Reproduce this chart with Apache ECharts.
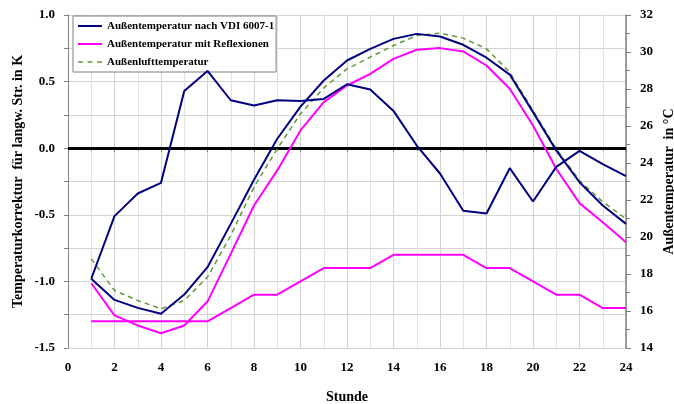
<!DOCTYPE html>
<html>
<head>
<meta charset="utf-8">
<script src="https://cdn.jsdelivr.net/npm/echarts@6/dist/echarts.min.js"></script>
<style>
  html, body { margin: 0; padding: 0; background: #fff; }
  #chart { width: 674px; height: 404px; }
</style>
</head>
<body>
<div id="chart"></div>
<script>
// Stunden 1..24
const hours = [1,2,3,4,5,6,7,8,9,10,11,12,13,14,15,16,17,18,19,20,21,22,23,24];

// Korrektur (linke Achse, K)
const korrVDI = [-0.98,-0.51,-0.34,-0.26,0.43,0.58,0.36,0.32,0.36,0.355,0.37,0.48,
                 0.44,0.28,0.02,-0.19,-0.47,-0.49,-0.15,-0.40,-0.14,-0.02,-0.12,-0.21];
const korrRefl = [-1.30,-1.30,-1.30,-1.30,-1.30,-1.30,-1.20,-1.10,-1.10,-1.00,-0.90,-0.90,
                  -0.90,-0.80,-0.80,-0.80,-0.80,-0.90,-0.90,-1.00,-1.10,-1.10,-1.20,-1.20];

// Temperaturen (rechte Achse, °C)
const tempVDI = [17.74,16.6,16.17,15.85,16.89,18.37,20.71,23.09,25.31,27.05,28.46,29.54,
                 30.17,30.71,30.98,30.84,30.39,29.69,28.78,26.75,24.68,22.96,21.7,20.71];
const tempRefl = [17.5,15.76,15.22,14.8,15.22,16.51,19.09,21.7,23.6,25.76,27.29,28.19,
                  28.82,29.63,30.12,30.21,30.03,29.27,28.01,26.03,23.69,21.83,20.8,19.72];
const tempLuft = [18.82,17.11,16.57,16.12,16.57,17.83,20.08,22.7,24.77,26.66,28.06,29.09,
                  29.72,30.35,30.89,31.02,30.75,30.17,28.91,26.84,24.77,23.05,21.9,20.98];

const NAME_VDI = "Außentemperatur nach VDI 6007-1";
const NAME_REFL = "Außentemperatur mit Reflexionen";
const NAME_LUFT = "Außenlufttemperatur";

const pairs = (ys) => hours.map((h, i) => [h, ys[i]]);

// Legenden-Symbole: Linie in einem 24x12 Kasten (Ecken als Platzhalter)
const ICON_SOLID = "path://M0,0h0.01v0.01h-0.01z M0,5h24v2h-24z M24,12h-0.01v-0.01h0.01z";
const ICON_DASH = "path://M0,0h0.01v0.01h-0.01z M0,5.25h5v1.5h-5z M9.5,5.25h5v1.5h-5z M19,5.25h5v1.5h-5z M24,12h-0.01v-0.01h0.01z";

const FONT = "Liberation Serif";
const tickLabel = { fontFamily: FONT, fontWeight: "bold", fontSize: 13, color: "#000" };
const nameStyle = { fontFamily: FONT, fontWeight: "bold", fontSize: 14, color: "#000" };

const chart = echarts.init(document.getElementById("chart"));

chart.setOption({
  animation: false,
  grid: { left: 68, right: 48, top: 15, bottom: 56, containLabel: false, outerBoundsMode: "none" },
  legend: {
    orient: "vertical",
    left: 73,
    top: 16,
    padding: [4, 2, 4, 5],
    itemGap: 6,
    itemWidth: 24,
    itemHeight: 12,
    backgroundColor: "#fff",
    borderColor: "#7f7f7f",
    borderWidth: 1,
    textStyle: { fontFamily: FONT, fontWeight: "bold", fontSize: 11, color: "#000" },
    data: [
      { name: NAME_VDI, icon: ICON_SOLID },
      { name: NAME_REFL, icon: ICON_SOLID },
      { name: NAME_LUFT, icon: ICON_DASH },
    ],
  },
  xAxis: {
    type: "value",
    min: 0,
    max: 24,
    interval: 2,
    name: "Stunde",
    nameLocation: "middle",
    nameGap: 42,
    nameMoveOverlap: false,
    nameTextStyle: nameStyle,
    axisLine: { show: true, lineStyle: { color: "#808080" } },
    axisTick: { show: true, length: 4, lineStyle: { color: "#808080" } },
    minorTick: { show: true, splitNumber: 2, length: 3, lineStyle: { color: "#808080" } },
    axisLabel: { ...tickLabel, margin: 13 },
    splitLine: { show: true, lineStyle: { color: "#d4d4d4" } },
    minorSplitLine: { show: true, lineStyle: { color: "#e2e2e2" } },
  },
  yAxis: [
    {
      type: "value",
      min: -1.5,
      max: 1.0,
      interval: 0.5,
      name: "Temperaturkorrektur  für langw. Str. in K",
      nameLocation: "middle",
      nameGap: 43,
      nameMoveOverlap: false,
      nameTextStyle: nameStyle,
      axisLine: { show: true, lineStyle: { color: "#808080" } },
      axisTick: { show: true, length: 4, lineStyle: { color: "#808080" } },
      minorTick: { show: true, splitNumber: 2, length: 4, lineStyle: { color: "#808080" } },
      axisLabel: { ...tickLabel, margin: 13, formatter: (v) => v.toFixed(1) },
      splitLine: { show: true, lineStyle: { color: "#d4d4d4" } },
      minorSplitLine: { show: true, lineStyle: { color: "#d4d4d4" } },
    },
    {
      type: "value",
      min: 14,
      max: 32,
      interval: 2,
      position: "right",
      name: "Außentemperatur  in °C",
      nameLocation: "middle",
      nameGap: 36,
      nameMoveOverlap: false,
      nameTextStyle: nameStyle,
      axisLine: { show: true, lineStyle: { color: "#808080", width: 1.5 } },
      axisTick: { show: true, length: 5, lineStyle: { color: "#808080" } },
      minorTick: { show: true, splitNumber: 2, length: 4, lineStyle: { color: "#808080" } },
      axisLabel: { ...tickLabel, margin: 14 },
      splitLine: { show: false },
    },
  ],
  series: [
    {
      name: NAME_VDI,
      type: "line",
      yAxisIndex: 1,
      data: pairs(tempVDI),
      showSymbol: false,
      symbol: "none",
      lineStyle: { color: "#000080", width: 2 },
      itemStyle: { color: "#000080" },
      z: 4,
    },
    {
      name: NAME_REFL,
      type: "line",
      yAxisIndex: 1,
      data: pairs(tempRefl),
      showSymbol: false,
      symbol: "none",
      lineStyle: { color: "#ff00ff", width: 2 },
      itemStyle: { color: "#ff00ff" },
      z: 3,
    },
    {
      name: NAME_LUFT,
      type: "line",
      yAxisIndex: 1,
      data: pairs(tempLuft),
      showSymbol: false,
      symbol: "none",
      lineStyle: { color: "#5f9a3a", width: 1.5, type: [5, 4] },
      itemStyle: { color: "#5f9a3a" },
      z: 3,
    },
    {
      name: NAME_VDI,
      type: "line",
      yAxisIndex: 0,
      data: pairs(korrVDI),
      showSymbol: false,
      symbol: "none",
      lineStyle: { color: "#000080", width: 2 },
      itemStyle: { color: "#000080" },
      z: 4,
      markLine: {
        silent: true,
        symbol: "none",
        label: { show: false },
        lineStyle: { color: "#000", width: 3, type: "solid" },
        data: [{ yAxis: 0 }],
        z: 2,
      },
    },
    {
      name: NAME_REFL,
      type: "line",
      yAxisIndex: 0,
      data: pairs(korrRefl),
      showSymbol: false,
      symbol: "none",
      lineStyle: { color: "#ff00ff", width: 2 },
      itemStyle: { color: "#ff00ff" },
      z: 3,
    },
  ],
});
</script>
</body>
</html>
